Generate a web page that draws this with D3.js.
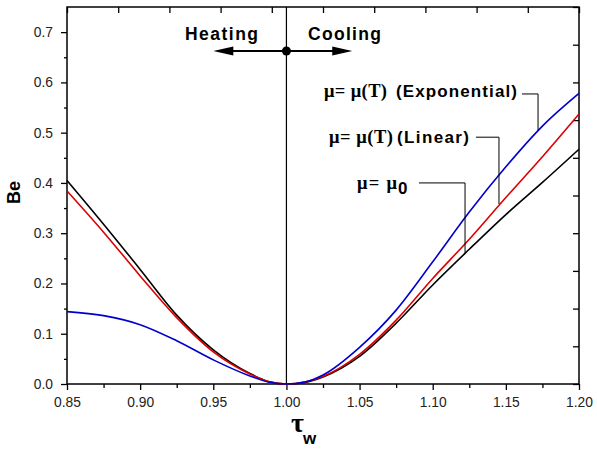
<!DOCTYPE html>
<html>
<head>
<meta charset="utf-8">
<script src="https://cdn.jsdelivr.net/npm/d3@7"></script>
<style>
  body { margin: 0; background: #fff; }
  svg { display: block; }
  .tick text { font-family: "Liberation Sans", Arial, sans-serif; font-size: 13.8px; fill: #222; }
</style>
</head>
<body>
<script>
// Bejan number vs wall temperature ratio, three viscosity models

var tau = [0.85, 0.875, 0.90, 0.925, 0.95, 0.975, 0.9875, 1.00, 1.0125, 1.025, 1.05, 1.075, 1.10, 1.125, 1.15, 1.175, 1.20];
var beConst = [0.405, 0.318, 0.228, 0.137, 0.068, 0.021, 0.005, 0.000, 0.003, 0.014, 0.055, 0.121, 0.197, 0.268, 0.337, 0.401, 0.467];
var beLinear = [0.384, 0.302, 0.215, 0.132, 0.064, 0.020, 0.005, 0.000, 0.004, 0.015, 0.059, 0.127, 0.210, 0.288, 0.371, 0.452, 0.537];
var beExp = [0.144, 0.136, 0.118, 0.086, 0.048, 0.016, 0.004, 0.000, 0.004, 0.018, 0.073, 0.147, 0.243, 0.342, 0.432, 0.513, 0.578];

var xTicks = [0.85, 0.90, 0.95, 1.00, 1.05, 1.10, 1.15, 1.20];
var yTicks = [0.0, 0.1, 0.2, 0.3, 0.4, 0.5, 0.6, 0.7];

var w = 597;
var h = 454;
// plot box (note: "top" is taken by window.top, so use p* names)
var pLeft = 67, pRight = 579, pTop = 7, pBottom = 384;

var svg = d3.select("body")
  .append("svg")
  .attr("width", w)
  .attr("height", h);

var x = d3.scaleLinear().domain([0.85, 1.20]).range([pLeft, pRight]);
var y = d3.scaleLinear().domain([0, 0.75]).range([pBottom, pTop]);

// minor ticks halfway between the labelled ones
var xMinor = d3.range(0.875, 1.2, 0.05);
var yMinor = d3.range(0.05, 0.75, 0.1);

// bottom axis
var gx = svg.append("g").attr("transform", "translate(0," + pBottom + ")");
gx.call(d3.axisBottom(x).tickValues(xTicks).tickFormat(d3.format(".2f")).tickSize(6).tickPadding(7));
gx.append("g").call(d3.axisBottom(x).tickValues(xMinor).tickFormat("").tickSize(4));

// left axis
var gy = svg.append("g").attr("transform", "translate(" + pLeft + ",0)");
gy.call(d3.axisLeft(y).tickValues(yTicks).tickFormat(d3.format(".1f")).tickSize(6).tickPadding(8));
gy.append("g").call(d3.axisLeft(y).tickValues(yMinor).tickFormat("").tickSize(3));

// top and right mirror axes, ten divisions, ticks inside
svg.append("g").attr("transform", "translate(0," + pTop + ")")
  .call(d3.axisBottom(x).tickValues(d3.range(11).map(function(i) { return 0.85 + i * 0.035; })).tickFormat("").tickSize(6));
svg.append("g").attr("transform", "translate(" + pRight + ",0)")
  .call(d3.axisLeft(y).tickValues(d3.range(11).map(function(i) { return i * 0.075; })).tickFormat("").tickSize(6));

svg.selectAll(".domain").remove();
svg.selectAll(".tick line").attr("stroke", "#000").attr("stroke-width", 1.3);

// frame
svg.append("rect")
  .attr("x", pLeft).attr("y", pTop)
  .attr("width", pRight - pLeft).attr("height", pBottom - pTop)
  .attr("fill", "none").attr("stroke", "#000").attr("stroke-width", 1.5);

// divider at tau_w = 1
svg.append("line")
  .attr("x1", x(1)).attr("x2", x(1))
  .attr("y1", pTop).attr("y2", pBottom)
  .attr("stroke", "#000").attr("stroke-width", 1.2);

// curves
var line = d3.line().curve(d3.curveMonotoneX);
function draw(vals, color) {
  svg.append("path")
    .datum(tau.map(function(t, i) { return [x(t), y(vals[i])]; }))
    .attr("d", line)
    .attr("fill", "none")
    .attr("stroke", color)
    .attr("stroke-width", 1.6);
}
draw(beConst, "#000000");
draw(beLinear, "#dd0000");
draw(beExp, "#0000cc");

// Heating / Cooling arrows
var ay = y(0.6625);
svg.append("line")
  .attr("x1", x(0.963)).attr("x2", x(1.032))
  .attr("y1", ay).attr("y2", ay)
  .attr("stroke", "#000").attr("stroke-width", 2);
var hl = x(0.95), hr = x(1.045);
svg.append("path")
  .attr("d", "M" + hl + "," + ay + "L" + (hl + 20) + "," + (ay - 4.5) + "L" + (hl + 20) + "," + (ay + 4.5) + "Z")
  .attr("fill", "#000");
svg.append("path")
  .attr("d", "M" + hr + "," + ay + "L" + (hr - 20) + "," + (ay - 4.5) + "L" + (hr - 20) + "," + (ay + 4.5) + "Z")
  .attr("fill", "#000");
svg.append("circle").attr("cx", x(1)).attr("cy", ay).attr("r", 4.5).attr("fill", "#000");

var sans = "'Liberation Sans', Arial, sans-serif";
var serif = "'Liberation Serif', 'Times New Roman', serif";

function label(txt, x0, base, len, size, font) {
  svg.append("text")
    .attr("x", x0).attr("y", base)
    .attr("font-family", font || sans)
    .attr("font-weight", "bold")
    .attr("font-size", size)
    .attr("textLength", len)
    .attr("lengthAdjust", "spacing")
    .text(txt);
}
label("Heating", 185, 40, 73, 17.5);
label("Cooling", 308, 40, 73, 17.5);

// curve labels with leader lines
label("\u03bc= \u03bc(T)", 324, 97, 63, 18.5, serif);
label("(Exponential)", 396, 97, 121, 17);
label("\u03bc= \u03bc(T)", 329, 143, 64, 18.5, serif);
label("(Linear)", 397, 143, 72, 17);
label("\u03bc= \u03bc", 357, 189, 40, 18.5, serif);
label("0", 398, 194, 10, 17, sans);

function leader(t0, t1, v0, v1) {
  svg.append("path")
    .attr("d", "M" + x(t0) + "," + y(v0) + "H" + x(t1) + "V" + y(v1))
    .attr("fill", "none").attr("stroke", "#000").attr("stroke-width", 1);
}
leader(1.161, 1.172, 0.577, 0.505);
leader(1.1296, 1.1453, 0.491, 0.358);
leader(1.0906, 1.1221, 0.400, 0.261);

// axis titles
svg.append("text")
  .attr("transform", "translate(19.5,192.5) rotate(-90)")
  .attr("text-anchor", "middle")
  .attr("font-family", sans).attr("font-weight", "bold").attr("font-size", 18)
  .text("Be");
svg.append("text")
  .attr("x", 291).attr("y", 432)
  .attr("font-family", serif).attr("font-weight", "bold").attr("font-size", 28)
  .text("\u03c4");
svg.append("text")
  .attr("x", 303).attr("y", 444)
  .attr("font-family", sans).attr("font-weight", "bold").attr("font-size", 17)
  .text("w");
</script>
</body>
</html>
